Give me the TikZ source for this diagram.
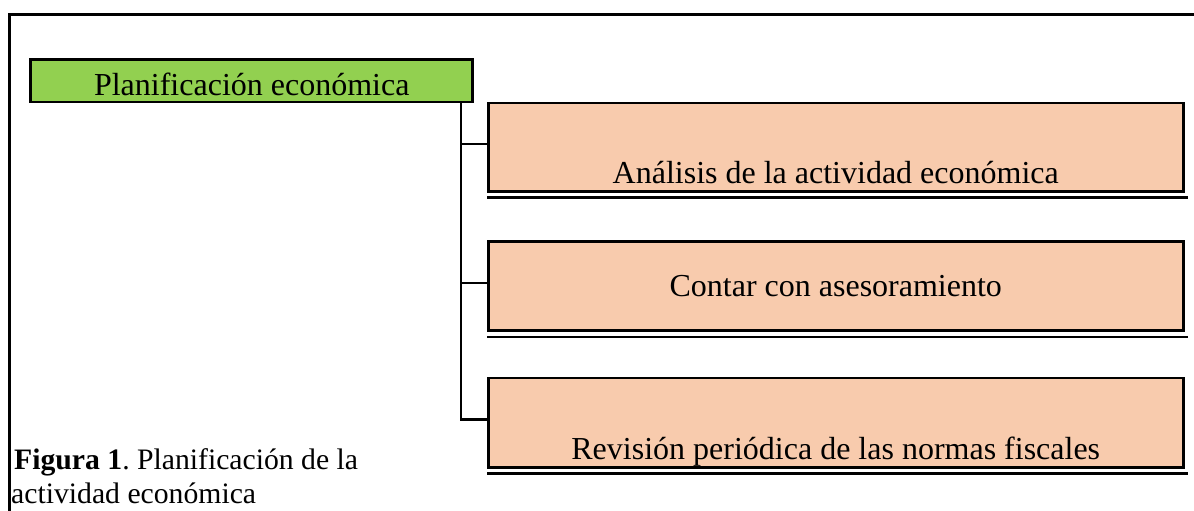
\documentclass[tikz,border=0pt]{standalone}
\usepackage{fontspec}
\setmainfont{Liberation Serif}
\usetikzlibrary{positioning}
\definecolor{verdeplan}{HTML}{92D050}
\definecolor{naranjaclaro}{HTML}{F8CBAD}
\frenchspacing

\begin{document}
\begin{tikzpicture}[
  x=1pt, y=-1pt,
  every node/.style={
    inner sep=0pt, font=\fontsize{32}{38}\selectfont
  },
  raiz/.style={
    draw, fill=verdeplan, line width=2.7pt,
    minimum width=442pt, minimum height=42.7pt
  },
  hoja/.style={
    draw, fill=naranjaclaro, line width=2.5pt,
    minimum width=695pt
  },
  pie/.style={align=left, font=\fontsize{29.7}{34}\selectfont},
  conector/.style={line width=2.3pt},
  doble/.style={line width=2.5pt},
  marco/.style={line width=2.5pt}
]
\useasboundingbox (0,0) rectangle (1194,511);

% marco exterior
\draw[marco] (9.3,511) -- (9.3,14.5) -- (1194,14.5);

\node[raiz, text height=35.7pt, text depth=7pt] (plan) at (251.75,80.7) {Planificación económica};

\node[hoja, anchor=north west, text height=80pt, text depth=8.3pt] (analisis) at (487,101.75) {Análisis de la actividad económica};
\node[hoja, below=47.5pt of analisis, text height=54.7pt, text depth=34.5pt] (asesor) {Contar con asesoramiento};
\node[hoja, below=44.8pt of asesor, text height=81.5pt, text depth=8pt] (revision) {Revisión periódica de las normas fiscales};

% linea doble bajo cada recuadro
\foreach \b in {analisis,asesor,revision}
  \draw[doble] ([yshift=-5pt]\b.south west) -- ([xshift=3pt,yshift=-5pt]\b.south east);

\coordinate (tronco) at (460.7,0);
\draw[conector] (tronco |- plan.south) |- ([yshift=3pt]revision.west);
\foreach \b in {analisis,asesor}
  \draw[conector] ([yshift=3pt]\b.west -| tronco) -- ([yshift=3pt]\b.west);

\node[pie, anchor=base west] (titulo) at (11,503) {\hspace*{3pt}\textbf{Figura 1}. Planificación de la\\actividad económica};

\end{tikzpicture}
\end{document}
